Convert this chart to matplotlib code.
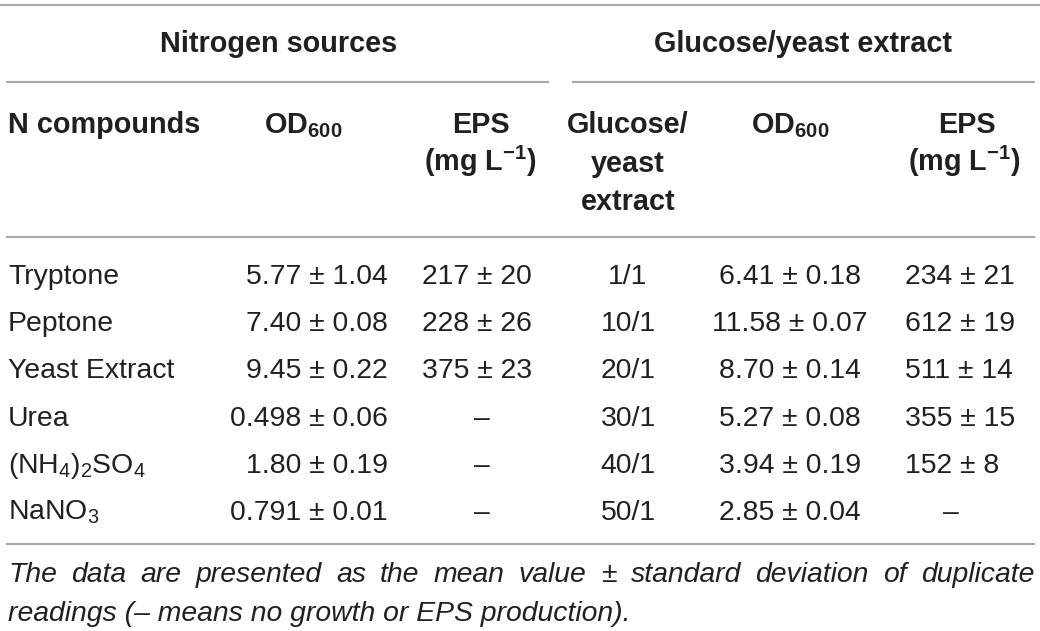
import matplotlib
matplotlib.use("Agg")
import matplotlib.pyplot as plt

# ---------------- data ----------------
group_titles = ["Nitrogen sources", "Glucose/yeast extract"]
n_compounds = ["Tryptone", "Peptone", "Yeast Extract", "Urea",
               r"(NH$_4$)$_2$SO$_4$", r"NaNO$_3$"]
n_od_mean = ["5.77", "7.40", "9.45", "0.498", "1.80", "0.791"]
n_od_sd = ["1.04", "0.08", "0.22", "0.06", "0.19", "0.01"]
n_eps_mean = ["217", "228", "375", None, None, None]
n_eps_sd = ["20", "26", "23", None, None, None]

ratios = ["1/1", "10/1", "20/1", "30/1", "40/1", "50/1"]
g_od_mean = ["6.41", "11.58", "8.70", "5.27", "3.94", "2.85"]
g_od_sd = ["0.18", "0.07", "0.14", "0.08", "0.19", "0.04"]
g_eps_mean = ["234", "612", "511", "355", "152", None]
g_eps_sd = ["21", "19", "14", "15", "8", None]

footnote_1 = "The data are presented as the mean value \u00b1 standard deviation of duplicate"
footnote_2 = "readings (\u2013 means no growth or EPS production)."

# ---------------- style ----------------
plt.rcParams["font.family"] = ["Liberation Sans", "DejaVu Sans"]
plt.rcParams["mathtext.fontset"] = "custom"
plt.rcParams["mathtext.rm"] = "Liberation Sans"
plt.rcParams["mathtext.it"] = "Liberation Sans:italic"
plt.rcParams["mathtext.bf"] = "Liberation Sans:bold"

TXT = "#231f20"
LINE = "#a7a7a7"
FS = 20.4
FSB = 20.8
LW = 1.5

W, H = 1040, 631
fig = plt.figure(figsize=(W / 100, H / 100), dpi=100)
ax = fig.add_axes([0, 0, 1, 1])
ax.set_xlim(0, W)
ax.set_ylim(H, 0)
ax.axis("off")

def t(x, y, s, ha="left", bold=False, **kw):
    return ax.text(x, y, s, ha=ha, va="baseline", color=TXT,
                   fontsize=FSB if bold else FS,
                   fontweight="bold" if bold else "normal", **kw)

# rules
ax.hlines(5, 0, W, color=LINE, lw=LW)
ax.hlines(82, 6, 549, color=LINE, lw=LW)
ax.hlines(82, 572, 1035, color=LINE, lw=LW)
ax.hlines(237, 6, 1035, color=LINE, lw=LW)
ax.hlines(544, 6, 1035, color=LINE, lw=LW)

# group titles
t(279, 52, group_titles[0], ha="center", bold=True)
t(803, 52, group_titles[1], ha="center", bold=True)

# column headers
t(8, 133, "N compounds", bold=True)
t(303, 133, r"$\mathbf{OD}_{\mathbf{600}}$", ha="center", bold=True)
t(481, 133, "EPS", ha="center", bold=True)
t(480, 171, r"$\mathbf{(mg\ L^{-1})}$", ha="center", bold=True)
t(628, 133, "Glucose/", ha="center", bold=True)
t(628, 172, "yeast", ha="center", bold=True)
t(628, 210, "extract", ha="center", bold=True)
t(790, 133, r"$\mathbf{OD}_{\mathbf{600}}$", ha="center", bold=True)
t(967, 133, "EPS", ha="center", bold=True)
t(964, 171, r"$\mathbf{(mg\ L^{-1})}$", ha="center", bold=True)

PM = " \u00b1 "
DASH = "\u2013"
y0, dy = 284, 47.2
for i in range(len(n_compounds)):
    y = y0 + i * dy
    t(8, y, n_compounds[i])
    t(388, y, n_od_mean[i] + PM + n_od_sd[i], ha="right")
    if n_eps_mean[i] is None:
        t(482, y, DASH, ha="center")
    else:
        t(477, y, n_eps_mean[i] + PM + n_eps_sd[i], ha="center")
    t(628, y, ratios[i], ha="center")
    t(790, y, g_od_mean[i] + PM + g_od_sd[i], ha="center")
    if g_eps_mean[i] is None:
        t(951, y, DASH, ha="center")
    else:
        t(905, y, g_eps_mean[i] + PM + g_eps_sd[i], ha="left")

# footnote (first line justified)
fig.canvas.draw()
renderer = fig.canvas.get_renderer()
words = footnote_1.split(" ")
objs = [t(0, 582, w, style="italic") for w in words]
widths = [o.get_window_extent(renderer).width for o in objs]
left, right = 8, 1034
gap = (right - left - sum(widths)) / (len(words) - 1)
x = left
for o, w in zip(objs, widths):
    o.set_x(x)
    x += w + gap
t(8, 621, footnote_2, style="italic")

fig.savefig("out.png", dpi=100, facecolor="white")
